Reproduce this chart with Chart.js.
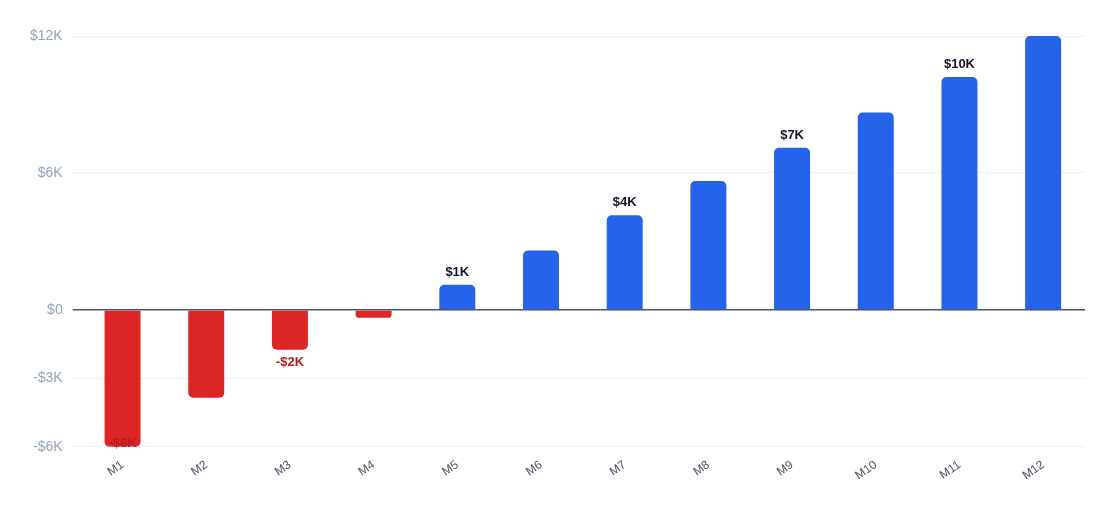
<!DOCTYPE html>
<html><head><meta charset="utf-8">
<script src="https://cdn.jsdelivr.net/npm/chart.js@4"></script>
<style>html,body{margin:0;background:#fff}#w{width:1120px;height:531px}</style>
</head><body><div id="w"><canvas id="c"></canvas></div>
<script>
const categories=['M1','M2','M3','M4','M5','M6','M7','M8','M9','M10','M11','M12'];
const values=[-6000,-3850,-1750,-350,1100,2600,4150,5650,7100,8650,10200,12000];
const tickValues=[-6000,-3000,0,6000,12000];
const labelShown=[true,false,true,false,true,false,true,false,true,false,true,false];
const fmt=v=>v===0?'$0':(v<0?'-':'')+'$'+Math.round(Math.abs(v)/1000)+'K';
const labelPlugin={id:'lbl',afterDatasetsDraw(ch){
  const ctx=ch.ctx,meta=ch.getDatasetMeta(0);
  ctx.save();ctx.font='bold 13px "Liberation Sans", Arial';ctx.textAlign='center';
  meta.data.forEach((b,i)=>{if(!labelShown[i])return;const v=values[i];
    if(v>=0){ctx.fillStyle='#111827';ctx.textBaseline='bottom';ctx.fillText(fmt(v),b.x,b.y-6);}
    else if(i===0){ctx.fillStyle='#b91c1c';ctx.textBaseline='bottom';ctx.fillText(fmt(v),b.x,b.y+3);}
    else{ctx.fillStyle='#b91c1c';ctx.textBaseline='top';ctx.fillText(fmt(v),b.x,b.y+6);}
  });ctx.restore();}};
new Chart(document.getElementById('c'),{type:'bar',
 data:{labels:categories,datasets:[{data:values,
  backgroundColor:values.map(v=>v<0?'#dc2626':'#2563eb'),
  borderRadius:5,borderSkipped:'start',barPercentage:0.43,categoryPercentage:1}]},
 options:{responsive:true,maintainAspectRatio:false,animation:false,
  layout:{padding:{left:20,right:35,top:36,bottom:45}},
  plugins:{legend:{display:false},tooltip:{enabled:false}},
  scales:{
   x:{grid:{display:false},border:{display:false},
      ticks:{color:'#4b5563',font:{size:12,family:'"Liberation Sans", Arial'},maxRotation:35,minRotation:35}},
   y:{min:-6000,max:12000,afterBuildTicks:a=>{a.ticks=tickValues.map(v=>({value:v}));},
      border:{display:false},
      grid:{color:c=>c.tick&&c.tick.value===0?'#475569':'#eef0f3',lineWidth:c=>c.tick&&c.tick.value===0?1.5:1},
      ticks:{color:'#94a3b8',padding:10,font:{size:14,family:'"Liberation Sans", Arial'},callback:v=>fmt(v)}}
  }},
 plugins:[labelPlugin]});
</script></body></html>
